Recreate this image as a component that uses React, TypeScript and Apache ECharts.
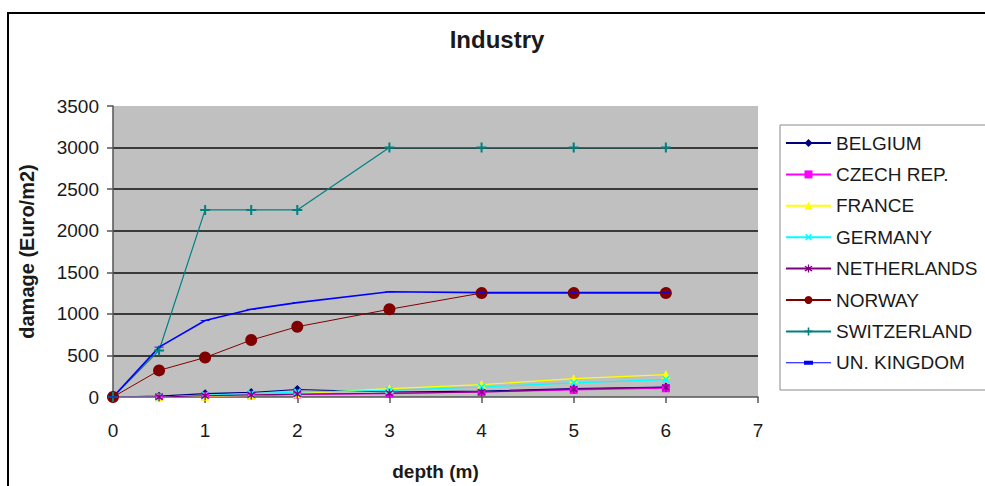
import React, { useEffect, useRef } from "react";
import * as echarts from "echarts";

// Water depth (m) at which each damage value is given
const depth = [0, 0.5, 1, 1.5, 2, 3, 4, 5, 6];

// Damage for industry, Euro per m2, per country
const belgium = [0, 10, 40, 55, 90, 60, 70, 100, 120];
const czechRep = [0, 0, 10, 20, 30, 40, 60, 85, 105];
const france = [0, 0, 10, 20, 40, 100, 150, 220, 270];
const germany = [0, 0, 20, 40, 60, 80, 120, 170, 210];
const netherlands = [0, 0, 15, 25, 35, 45, 60, 95, 115];
const norway = [0, 320, 475, 685, 845, 1055, 1250, 1250, 1250];
const switzerland = [0, 560, 2250, 2250, 2250, 3000, 3000, 3000, 3000];
const unKingdom = [0, 600, 920, 1055, 1135, 1265, 1255, 1255, 1255];

const countries = [
  "BELGIUM",
  "CZECH REP.",
  "FRANCE",
  "GERMANY",
  "NETHERLANDS",
  "NORWAY",
  "SWITZERLAND",
  "UN. KINGDOM",
];

const FONT = "'Liberation Sans', Arial, Helvetica, sans-serif";

// marker shapes in the classic spreadsheet style
const PLUS = "path://M4,0H6V4H10V6H6V10H4V6H0V4H4Z";
const STAR =
  "path://M4.3,0H5.7V3.3L8.6,1.3L9.4,2.5L6.4,5L9.4,7.5L8.6,8.7L5.7,6.7V10H4.3V6.7L1.4,8.7L0.6,7.5L3.6,5L0.6,2.5L1.4,1.3L4.3,3.3Z";
const DASH = "path://M0,0H10V3H0Z";

type Style = {
  color: string;
  symbol: string;
  size: number | number[];
  width: number;
  rotate?: number;
};

const styles: Style[] = [
  { color: "#000080", symbol: "diamond", size: 9, width: 1.2 },
  { color: "#ff00ff", symbol: "rect", size: 8, width: 1.2 },
  { color: "#ffff00", symbol: "triangle", size: 9, width: 1.2 },
  { color: "#00ffff", symbol: PLUS, size: 9, width: 1.2, rotate: 45 },
  { color: "#800080", symbol: STAR, size: 9, width: 1.2 },
  { color: "#800000", symbol: "circle", size: 12, width: 1 },
  { color: "#008080", symbol: PLUS, size: 10, width: 1.2 },
  { color: "#0000ff", symbol: DASH, size: [9, 3], width: 1.6 },
];

const values = [belgium, czechRep, france, germany, netherlands, norway, switzerland, unKingdom];

export default function App() {
  const ref = useRef<HTMLDivElement>(null);

  useEffect(() => {
    if (!ref.current) return;
    const chart = echarts.init(ref.current, undefined, { renderer: "svg" });

    const series = countries.map((name, i) => {
      const s = styles[i];
      return {
        name,
        type: "line",
        data: depth.map((d, k) => [d, values[i][k]]),
        symbol: s.symbol,
        symbolSize: s.size,
        symbolRotate: s.rotate ?? 0,
        symbolKeepAspect: true,
        showAllSymbol: true,
        itemStyle: { color: s.color, borderWidth: 0, opacity: 1 },
        lineStyle: { color: s.color, width: s.width },
        emphasis: { disabled: true },
      };
    });

    // legend entries, with the dash marker kept flat
    const legendData = countries.map((name, i) =>
      i === 7 ? { name, icon: "path://M0,0H45V1H0Z M18,-1.5H27V2.5H18Z" } : { name }
    );

    chart.setOption({
      animation: false,
      backgroundColor: "#ffffff",
      textStyle: { fontFamily: FONT },
      title: {
        text: "Industry",
        left: 497,
        top: 27,
        textAlign: "center",
        padding: 0,
        textStyle: { fontFamily: FONT, fontSize: 24, fontWeight: "bold", color: "#1a1a1a" },
      },
      grid: {
        left: 113,
        top: 106,
        width: 645,
        height: 295,
        show: true,
        backgroundColor: "#c0c0c0",
        borderWidth: 0,
      },
      legend: {
        orient: "vertical",
        left: 780,
        top: 125,
        padding: [8, 0, 17, 5],
        itemWidth: 45,
        itemHeight: 10,
        itemGap: 11.4,
        borderWidth: 0,
        selectedMode: false,
        data: legendData,
        textStyle: { fontFamily: FONT, fontSize: 19, color: "#1a1a1a", lineHeight: 20 },
      },
      xAxis: {
        type: "value",
        min: 0,
        max: 7,
        interval: 1,
        name: "depth (m)",
        nameLocation: "middle",
        nameGap: 65,
        nameTextStyle: { fontFamily: FONT, fontSize: 19, fontWeight: "bold", color: "#1a1a1a" },
        axisLine: { show: true, lineStyle: { color: "#555555", width: 1.5 } },
        axisTick: { show: true, inside: false, length: 6, lineStyle: { color: "#555555", width: 1.5 } },
        axisLabel: { margin: 24, fontFamily: FONT, fontSize: 19, color: "#1a1a1a" },
        splitLine: { show: false },
      },
      yAxis: {
        type: "value",
        min: 0,
        max: 3500,
        interval: 500,
        name: "damage (Euro/m2)",
        nameLocation: "middle",
        nameGap: 76,
        nameRotate: 90,
        nameTextStyle: { fontFamily: FONT, fontSize: 20, fontWeight: "bold", color: "#1a1a1a" },
        axisLine: { show: true, lineStyle: { color: "#555555", width: 1.5 } },
        axisTick: { show: true, inside: false, length: 6, lineStyle: { color: "#555555", width: 1.5 } },
        axisLabel: {
          margin: 14,
          fontFamily: FONT,
          fontSize: 19,
          color: "#1a1a1a",
          formatter: (v: number) => String(v),
        },
        splitLine: {
          show: true,
          showMinLine: false,
          showMaxLine: false,
          lineStyle: { color: "#3a3a3a", width: 1.8 },
        },
      },
      graphic: [
        {
          type: "rect",
          shape: { x: 8, y: 13, width: 1200, height: 700 },
          style: { fill: "none", stroke: "#000000", lineWidth: 2 },
          silent: true,
          z: 100,
        },
        {
          // legend frame, running past the right edge of the chart
          type: "rect",
          shape: { x: 780, y: 125, width: 260, height: 265 },
          style: { fill: "#ffffff", stroke: "#8a8a8a", lineWidth: 1 },
          silent: true,
          z: 0,
        },
      ],
      series,
    });

    return () => chart.dispose();
  }, []);

  return (
    <div
      ref={ref}
      style={{ position: "fixed", left: 0, top: 0, width: 985, height: 486 }}
    />
  );
}
